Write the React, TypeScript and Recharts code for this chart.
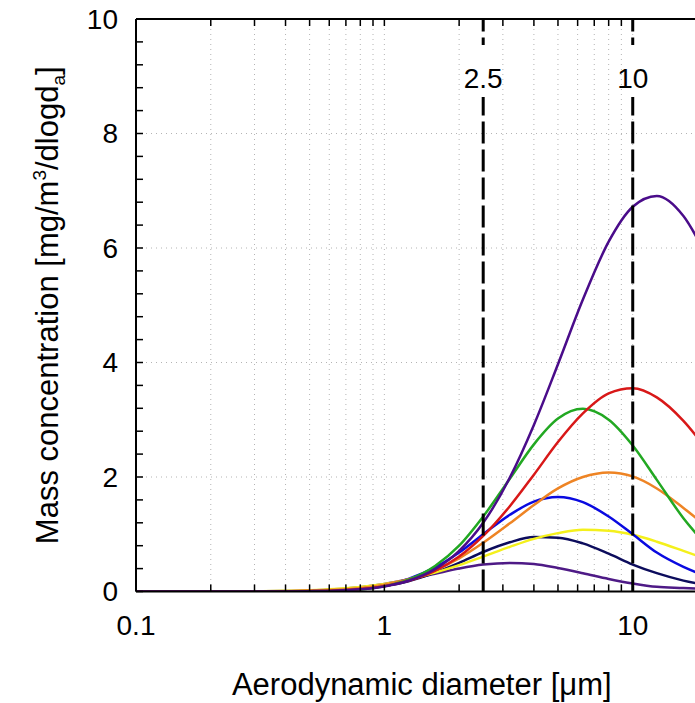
import React from 'react';
import { LineChart, Line, XAxis, YAxis, CartesianGrid, ReferenceLine } from 'recharts';

// aerodynamic diameter (µm), log-spaced sample points
const diameters = [0.1, 0.2, 0.3, 0.4, 0.5, 0.63, 0.8, 1, 1.25, 1.6, 2, 2.5, 3.2, 4, 5, 6.3, 8, 10, 12.5, 16, 20];

// mass concentration (mg/m3/dlogda) per curve
const smallPurple = [0, 0.0003, 0.002, 0.007, 0.017, 0.038, 0.076, 0.133, 0.21, 0.31, 0.4, 0.47, 0.5, 0.48, 0.41, 0.32, 0.22, 0.14, 0.081, 0.06, 0.04];
const navy = [0, 0, 0.0005, 0.002, 0.007, 0.019, 0.046, 0.097, 0.18, 0.33, 0.5, 0.69, 0.86, 0.95, 0.94, 0.84, 0.66, 0.47, 0.32, 0.19, 0.11];
const yellow = [0, 0.001, 0.004, 0.011, 0.022, 0.043, 0.079, 0.132, 0.21, 0.33, 0.46, 0.61, 0.78, 0.92, 1.02, 1.08, 1.06, 0.99, 0.87, 0.71, 0.56];
const blue = [0, 0, 0.0004, 0.002, 0.006, 0.018, 0.049, 0.109, 0.22, 0.42, 0.68, 1.0, 1.34, 1.57, 1.65, 1.56, 1.31, 1.0, 0.68, 0.43, 0.26];
const orange = [0, 0.0003, 0.002, 0.005, 0.013, 0.029, 0.062, 0.119, 0.213, 0.375, 0.58, 0.85, 1.19, 1.51, 1.8, 2.0, 2.08, 2.01, 1.8, 1.46, 1.12];
const green = [0, 0, 0.0002, 0.001, 0.004, 0.013, 0.037, 0.092, 0.206, 0.446, 0.8, 1.31, 1.97, 2.57, 3.02, 3.19, 3.0, 2.55, 1.95, 1.28, 0.79];
const red = [0, 0.0001, 0.0007, 0.003, 0.007, 0.018, 0.044, 0.094, 0.185, 0.36, 0.61, 0.97, 1.49, 2.04, 2.61, 3.11, 3.46, 3.55, 3.39, 2.98, 2.46];
const indigo = [0, 0, 0.0005, 0.002, 0.006, 0.015, 0.039, 0.089, 0.187, 0.39, 0.71, 1.2, 1.99, 2.91, 3.97, 5.1, 6.11, 6.72, 6.91, 6.56, 5.82];

const xMajorTicks = [0.1, 1, 10];
const xMinorTicks = [0.2, 0.3, 0.4, 0.5, 0.6, 0.7, 0.8, 0.9, 2, 3, 4, 5, 6, 7, 8, 9, 20];
const yMajorTicks = [0, 2, 4, 6, 8, 10];
const yMinorTicks = [0.4, 0.8, 1.2, 1.6, 2.4, 2.8, 3.2, 3.6, 4.4, 4.8, 5.2, 5.6, 6.4, 6.8, 7.2, 7.6, 8.4, 8.8, 9.2, 9.6];
const cutSizes = [
  { x: 2.5, label: '2.5' },
  { x: 10, label: '10' },
];

const series = [
  { key: 'smallPurple', values: smallPurple, color: '#4e1a86' },
  { key: 'navy', values: navy, color: '#0c0c5c' },
  { key: 'yellow', values: yellow, color: '#f4f01c' },
  { key: 'blue', values: blue, color: '#0a0ae0' },
  { key: 'orange', values: orange, color: '#ee8424' },
  { key: 'green', values: green, color: '#22a822' },
  { key: 'red', values: red, color: '#d81818' },
  { key: 'indigo', values: indigo, color: '#4a0c8a' },
];

const rows = diameters.map((d, i) => {
  const row: Record<string, number> = { d };
  series.forEach((s) => {
    row[s.key] = s.values[i];
  });
  return row;
});

const allXTicks = [...xMajorTicks, ...xMinorTicks].sort((a, b) => a - b);
const allYTicks = [...yMajorTicks, ...yMinorTicks].sort((a, b) => a - b);

const X_DOMAIN: [number, number] = [0.1, 20];
const Y_DOMAIN: [number, number] = [0, 10];
// negative tick size turns the marks inward
const TICK_IN = -7;

const FONT = '"Liberation Sans", Arial, Helvetica, sans-serif';
const tickStyle = { fill: '#000', fontSize: 28, fontFamily: FONT };
const tickLineStyle = { stroke: '#000', strokeWidth: 1.5 };
const axisLine = { stroke: '#000', strokeWidth: 2 };

const xLabel = (v: number) => (xMajorTicks.includes(v) ? String(v) : '');
const yLabel = (v: number) => (yMajorTicks.includes(v) ? String(v) : '');

const YTitle = ({ viewBox }: any) => {
  const cx = viewBox.x + 58;
  const cy = viewBox.y + viewBox.height / 2;
  return (
    <text x={cx} y={cy} transform={`rotate(-90 ${cx} ${cy})`} textAnchor="middle" fontSize={31} fontFamily={FONT} fill="#000">
      Mass concentration [mg/m<tspan dy={-12} fontSize={19}>3</tspan>
      <tspan dy={12}>/dlogd</tspan>
      <tspan dy={7} fontSize={19}>a</tspan>
      <tspan dy={-7}>]</tspan>
    </text>
  );
};

const XTitle = ({ viewBox }: any) => (
  <text x={viewBox.x + viewBox.width / 2} y={viewBox.y + 103.5} textAnchor="middle" fontSize={31} fontFamily={FONT} fill="#000">
    Aerodynamic diameter [μm]
  </text>
);

const CutLabel = ({ viewBox, text }: any) => {
  const x = viewBox.x;
  const top = viewBox.y;
  return (
    <g>
      <rect x={x - 7} y={top + 26} width={14} height={52} fill="#fff" />
      <text x={x} y={top + 69} textAnchor="middle" fontSize={28} fontFamily={FONT} fill="#000">
        {text}
      </text>
    </g>
  );
};

export default function App() {
  return (
    <div style={{ position: 'fixed', left: 0, top: 0, width: 695, height: 703, overflow: 'hidden', background: '#fff' }}>
      <LineChart width={720} height={703} data={rows} margin={{ top: 18, right: 12.5, left: 0, bottom: 0 }}>
        <CartesianGrid
          xAxisId="main"
          yAxisId="main"
          horizontalValues={[2, 4, 6, 8]}
          verticalValues={[...xMinorTicks, 1, 10]}
          stroke="#b4b4b4"
          strokeDasharray="1 4"
        />
        <XAxis
          xAxisId="main"
          dataKey="d"
          type="number"
          scale="log"
          domain={X_DOMAIN}
          allowDataOverflow
          ticks={allXTicks}
          interval={0}
          tickFormatter={xLabel}
          tick={tickStyle}
          tickLine={tickLineStyle}
          tickSize={TICK_IN}
          tickMargin={23.5 - TICK_IN}
          height={111.5}
          axisLine={axisLine}
          label={{ content: (p: any) => <XTitle viewBox={p.viewBox} /> }}
        />
        <XAxis
          xAxisId="top"
          orientation="top"
          dataKey="d"
          type="number"
          scale="log"
          domain={X_DOMAIN}
          allowDataOverflow
          ticks={allXTicks}
          interval={0}
          tickFormatter={() => ''}
          tick={{ fontSize: 1 }}
          tickLine={tickLineStyle}
          tickSize={TICK_IN}
          height={1}
          axisLine={axisLine}
        />
        <YAxis
          yAxisId="main"
          type="number"
          domain={Y_DOMAIN}
          allowDataOverflow
          ticks={allYTicks}
          interval={0}
          tickFormatter={yLabel}
          tick={tickStyle}
          tickLine={tickLineStyle}
          tickSize={TICK_IN}
          tickMargin={18 - TICK_IN}
          width={136}
          axisLine={axisLine}
          label={{ content: (p: any) => <YTitle viewBox={p.viewBox} /> }}
        />
        {series.map((s) => (
          <Line
            key={s.key}
            xAxisId="main"
            yAxisId="main"
            type="monotone"
            dataKey={s.key}
            stroke={s.color}
            strokeWidth={2.5}
            dot={false}
            isAnimationActive={false}
          />
        ))}
        {cutSizes.map((c) => (
          <ReferenceLine
            key={c.label}
            xAxisId="main"
            yAxisId="main"
            x={c.x}
            stroke="#000"
            strokeWidth={3}
            strokeDasharray="22 6"
            label={{ content: (p: any) => <CutLabel viewBox={p.viewBox} text={c.label} /> }}
          />
        ))}
      </LineChart>
    </div>
  );
}
